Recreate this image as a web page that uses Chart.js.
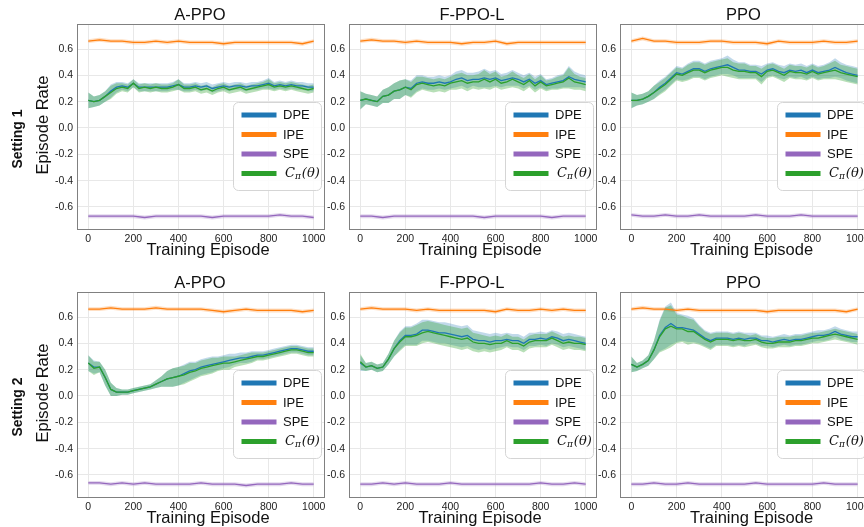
<!DOCTYPE html>
<html>
<head>
<meta charset="utf-8">
<script src="https://cdn.jsdelivr.net/npm/chart.js@4.4.0/dist/chart.umd.min.js"></script>
<style>
  html, body { margin: 0; padding: 0; background: #fff; overflow: hidden; }
  body { width: 864px; height: 527px; position: relative; }
  canvas { position: absolute; }
</style>
</head>
<body>
<canvas id="a1"></canvas>
<canvas id="b1"></canvas>
<canvas id="c1"></canvas>
<canvas id="a2"></canvas>
<canvas id="b2"></canvas>
<canvas id="c2"></canvas>
<script>
// episodes (x positions of the readings)
const EP25 = [0, 25, 50, 75, 100, 125, 150, 175, 200, 225, 250, 275, 300, 325, 350, 375, 400, 425, 450, 475,
  500, 525, 550, 575, 600, 625, 650, 675, 700, 725, 750, 775, 800, 825, 850, 875, 900, 925, 950, 975, 1000]
const EP50 = [0, 50, 100, 150, 200, 250, 300, 350, 400, 450, 500, 550, 600, 650, 700, 750, 800, 850, 900, 950, 1000]

const X_TICKS = [0, 200, 400, 600, 800, 1000]
const Y_TICKS = [-0.6, -0.4, -0.2, 0, 0.2, 0.4, 0.6]
const LEGEND_LABELS = ["DPE", "IPE", "SPE", "Cπ(θ)"]
const SIDE_BAND = 0.015

// Setting 1, A-PPO
const a1Dpe = [0.21,0.20,0.21,0.24,0.28,0.31,0.32,0.31,0.34,0.31,0.31,0.31,0.31,0.31,0.31,0.32,0.33,0.31,0.31,0.32,0.31,0.32,0.30,0.31,0.32,0.31,0.32,0.32,0.31,0.32,0.32,0.33,0.34,0.32,0.33,0.32,0.33,0.32,0.32,0.31,0.31]
const a1Cpi = [0.21,0.20,0.21,0.24,0.27,0.30,0.31,0.30,0.34,0.30,0.31,0.30,0.31,0.30,0.30,0.31,0.33,0.30,0.30,0.31,0.29,0.30,0.28,0.30,0.31,0.29,0.30,0.31,0.29,0.30,0.31,0.32,0.33,0.31,0.32,0.31,0.32,0.31,0.30,0.29,0.30]
const a1Band = [0.06,0.04,0.04,0.04,0.05,0.04,0.03,0.03,0.03,0.03,0.03,0.03,0.03,0.03,0.03,0.03,0.04,0.03,0.03,0.03,0.03,0.03,0.03,0.03,0.03,0.03,0.03,0.03,0.03,0.03,0.03,0.03,0.04,0.03,0.03,0.03,0.03,0.03,0.03,0.03,0.03]
const a1Ipe = [0.66,0.67,0.66,0.66,0.65,0.65,0.66,0.65,0.66,0.65,0.65,0.65,0.64,0.65,0.65,0.65,0.65,0.65,0.65,0.64,0.66]
const a1Spe = [-0.67,-0.67,-0.67,-0.67,-0.67,-0.68,-0.67,-0.67,-0.67,-0.67,-0.67,-0.68,-0.67,-0.67,-0.67,-0.67,-0.67,-0.66,-0.67,-0.67,-0.68]

// Setting 1, F-PPO-L
const b1Dpe = [0.21,0.22,0.21,0.20,0.24,0.25,0.28,0.29,0.31,0.30,0.34,0.35,0.34,0.34,0.35,0.34,0.35,0.37,0.38,0.36,0.37,0.37,0.38,0.37,0.38,0.36,0.37,0.38,0.37,0.35,0.37,0.34,0.36,0.33,0.34,0.35,0.36,0.39,0.37,0.36,0.35]
const b1Cpi = [0.21,0.22,0.21,0.20,0.24,0.25,0.28,0.29,0.31,0.29,0.33,0.34,0.33,0.32,0.33,0.32,0.34,0.35,0.36,0.34,0.35,0.35,0.37,0.35,0.37,0.34,0.35,0.37,0.35,0.33,0.36,0.32,0.35,0.32,0.33,0.34,0.35,0.38,0.35,0.34,0.33]
const b1Band = [0.07,0.04,0.04,0.04,0.05,0.06,0.06,0.07,0.06,0.06,0.06,0.05,0.05,0.05,0.05,0.05,0.05,0.06,0.06,0.06,0.05,0.06,0.07,0.06,0.06,0.05,0.05,0.06,0.05,0.05,0.05,0.05,0.05,0.04,0.04,0.05,0.05,0.08,0.06,0.05,0.05]
const b1Ipe = [0.66,0.67,0.66,0.66,0.65,0.66,0.65,0.65,0.65,0.64,0.65,0.65,0.66,0.64,0.65,0.65,0.65,0.65,0.65,0.65,0.65]
const b1Spe = [-0.67,-0.67,-0.68,-0.67,-0.67,-0.67,-0.67,-0.67,-0.67,-0.67,-0.67,-0.68,-0.67,-0.67,-0.67,-0.67,-0.67,-0.68,-0.67,-0.67,-0.67]

// Setting 1, PPO
const c1Dpe = [0.21,0.21,0.22,0.24,0.27,0.31,0.34,0.38,0.42,0.41,0.43,0.45,0.45,0.43,0.45,0.46,0.47,0.48,0.46,0.44,0.44,0.43,0.43,0.41,0.44,0.45,0.43,0.42,0.44,0.43,0.44,0.42,0.44,0.42,0.43,0.44,0.46,0.44,0.42,0.41,0.40]
const c1Cpi = [0.21,0.21,0.22,0.24,0.27,0.30,0.33,0.37,0.41,0.40,0.42,0.44,0.44,0.42,0.44,0.45,0.46,0.46,0.44,0.43,0.43,0.42,0.42,0.39,0.43,0.44,0.42,0.40,0.43,0.42,0.42,0.41,0.43,0.41,0.42,0.43,0.44,0.42,0.41,0.40,0.39]
const c1Band = [0.06,0.04,0.04,0.04,0.05,0.05,0.05,0.05,0.05,0.05,0.06,0.06,0.06,0.06,0.06,0.06,0.06,0.07,0.06,0.06,0.06,0.05,0.05,0.06,0.05,0.05,0.05,0.05,0.05,0.05,0.05,0.05,0.05,0.05,0.05,0.06,0.07,0.06,0.06,0.06,0.06]
const c1Ipe = [0.66,0.68,0.66,0.66,0.65,0.65,0.65,0.66,0.66,0.65,0.65,0.65,0.64,0.66,0.65,0.65,0.65,0.66,0.65,0.65,0.66]
const c1Spe = [-0.66,-0.67,-0.67,-0.66,-0.67,-0.67,-0.66,-0.67,-0.67,-0.67,-0.67,-0.66,-0.67,-0.67,-0.67,-0.66,-0.67,-0.67,-0.67,-0.67,-0.67]

// Setting 2, A-PPO
const a2Dpe = [0.25,0.22,0.22,0.14,0.05,0.03,0.03,0.03,0.04,0.05,0.06,0.07,0.09,0.11,0.13,0.14,0.15,0.17,0.19,0.20,0.22,0.23,0.24,0.25,0.26,0.27,0.28,0.29,0.29,0.30,0.31,0.31,0.32,0.33,0.34,0.35,0.36,0.36,0.35,0.34,0.34]
const a2Cpi = [0.25,0.21,0.22,0.14,0.05,0.03,0.03,0.03,0.04,0.05,0.06,0.07,0.09,0.11,0.13,0.14,0.15,0.16,0.18,0.19,0.21,0.22,0.23,0.24,0.25,0.25,0.26,0.27,0.28,0.29,0.30,0.30,0.31,0.32,0.33,0.34,0.35,0.35,0.34,0.33,0.33]
const a2Band = [0.06,0.05,0.04,0.06,0.05,0.03,0.02,0.02,0.02,0.02,0.02,0.02,0.03,0.04,0.06,0.07,0.07,0.07,0.07,0.06,0.06,0.06,0.06,0.05,0.05,0.05,0.04,0.04,0.04,0.04,0.03,0.03,0.03,0.03,0.03,0.03,0.03,0.03,0.03,0.03,0.03]
const a2Ipe = [0.66,0.66,0.67,0.66,0.66,0.66,0.67,0.66,0.66,0.66,0.66,0.65,0.64,0.65,0.66,0.65,0.65,0.65,0.65,0.64,0.65]
const a2Spe = [-0.66,-0.66,-0.67,-0.66,-0.67,-0.66,-0.67,-0.67,-0.67,-0.67,-0.66,-0.67,-0.67,-0.67,-0.68,-0.67,-0.67,-0.67,-0.66,-0.67,-0.67]

// Setting 2, F-PPO-L
const b2Dpe = [0.25,0.22,0.23,0.21,0.22,0.28,0.36,0.42,0.46,0.46,0.47,0.50,0.50,0.49,0.48,0.48,0.47,0.46,0.45,0.46,0.43,0.42,0.42,0.41,0.42,0.42,0.43,0.42,0.42,0.40,0.43,0.43,0.44,0.43,0.45,0.44,0.42,0.43,0.42,0.41,0.40]
const b2Cpi = [0.26,0.22,0.23,0.21,0.22,0.28,0.36,0.41,0.45,0.45,0.46,0.48,0.49,0.48,0.47,0.46,0.45,0.44,0.43,0.44,0.41,0.40,0.40,0.39,0.40,0.40,0.42,0.40,0.40,0.38,0.41,0.42,0.42,0.42,0.44,0.42,0.40,0.41,0.40,0.40,0.39]
const b2Band = [0.06,0.03,0.03,0.03,0.03,0.04,0.06,0.07,0.07,0.07,0.08,0.08,0.08,0.08,0.08,0.08,0.08,0.08,0.08,0.08,0.07,0.07,0.06,0.06,0.06,0.05,0.05,0.05,0.05,0.05,0.05,0.05,0.05,0.05,0.05,0.05,0.05,0.05,0.05,0.05,0.05]
const b2Ipe = [0.66,0.67,0.66,0.66,0.66,0.65,0.66,0.65,0.65,0.65,0.65,0.65,0.64,0.66,0.65,0.65,0.66,0.65,0.66,0.65,0.65]
const b2Spe = [-0.67,-0.67,-0.66,-0.67,-0.66,-0.67,-0.67,-0.67,-0.66,-0.67,-0.67,-0.67,-0.67,-0.67,-0.67,-0.67,-0.66,-0.67,-0.67,-0.66,-0.67]

// Setting 2, PPO
const c2Dpe = [0.24,0.22,0.24,0.27,0.35,0.46,0.52,0.55,0.52,0.52,0.51,0.50,0.47,0.44,0.42,0.44,0.44,0.44,0.43,0.44,0.43,0.44,0.44,0.42,0.42,0.41,0.42,0.43,0.42,0.43,0.43,0.44,0.45,0.46,0.46,0.47,0.49,0.47,0.46,0.45,0.45]
const c2Cpi = [0.24,0.22,0.24,0.27,0.35,0.45,0.51,0.53,0.51,0.51,0.49,0.49,0.46,0.43,0.41,0.43,0.43,0.43,0.42,0.43,0.42,0.42,0.43,0.41,0.40,0.40,0.41,0.41,0.41,0.42,0.42,0.43,0.44,0.44,0.45,0.46,0.47,0.46,0.45,0.44,0.43]
const c2Band = [0.06,0.03,0.03,0.04,0.07,0.12,0.16,0.16,0.11,0.10,0.10,0.09,0.07,0.06,0.06,0.05,0.05,0.05,0.05,0.05,0.05,0.04,0.04,0.04,0.04,0.04,0.04,0.04,0.04,0.04,0.04,0.04,0.04,0.04,0.04,0.04,0.04,0.04,0.04,0.04,0.04]
const c2Ipe = [0.66,0.67,0.66,0.66,0.65,0.66,0.65,0.65,0.65,0.65,0.65,0.65,0.64,0.65,0.65,0.65,0.65,0.65,0.65,0.64,0.66]
const c2Spe = [-0.67,-0.67,-0.66,-0.67,-0.67,-0.66,-0.67,-0.67,-0.67,-0.67,-0.67,-0.66,-0.67,-0.67,-0.67,-0.67,-0.67,-0.66,-0.67,-0.67,-0.67]

const COLORS = { dpe: "#1f77b4", ipe: "#ff7f0e", spe: "#9467bd", cpi: "#2ca02c" }
const FONT = "'Liberation Sans', Arial, sans-serif"

const panels = [
  { id: "a1", title: "A-PPO", setting: "Setting 1", left: 0, top: 0, width: 325, height: 258, yW: 77, padTop: 24, xH: 28,
    dpe: a1Dpe, cpi: a1Cpi, band: a1Band, ipe: a1Ipe, spe: a1Spe },
  { id: "b1", title: "F-PPO-L", left: 321, top: 0, width: 276, height: 258, yW: 28, padTop: 24, xH: 28,
    dpe: b1Dpe, cpi: b1Cpi, band: b1Band, ipe: b1Ipe, spe: b1Spe },
  { id: "c1", title: "PPO", left: 592, top: 0, width: 277, height: 258, yW: 28, padTop: 24, xH: 28,
    dpe: c1Dpe, cpi: c1Cpi, band: c1Band, ipe: c1Ipe, spe: c1Spe },
  { id: "a2", title: "A-PPO", setting: "Setting 2", left: 0, top: 270, width: 325, height: 257, yW: 77, padTop: 22, xH: 29,
    dpe: a2Dpe, cpi: a2Cpi, band: a2Band, ipe: a2Ipe, spe: a2Spe },
  { id: "b2", title: "F-PPO-L", left: 321, top: 270, width: 276, height: 257, yW: 28, padTop: 22, xH: 29,
    dpe: b2Dpe, cpi: b2Cpi, band: b2Band, ipe: b2Ipe, spe: b2Spe },
  { id: "c2", title: "PPO", left: 592, top: 270, width: 277, height: 257, yW: 28, padTop: 22, xH: 29,
    dpe: c2Dpe, cpi: c2Cpi, band: c2Band, ipe: c2Ipe, spe: c2Spe },
]

function pts(xs, ys, offs = 0, sign = 0) {
  return xs.map((x, i) => {
    const d = Array.isArray(offs) ? offs[i] : offs
    return { x, y: ys[i] + sign * d }
  })
}

function line(label, xs, ys, color, order) {
  return { label, data: pts(xs, ys), borderColor: color, borderWidth: 1.3, pointRadius: 0, fill: false, order }
}

function band(xs, ys, spread, color, order) {
  return [
    { data: pts(xs, ys, spread, 1), borderWidth: 0, pointRadius: 0, backgroundColor: color, fill: "+1", order },
    { data: pts(xs, ys, spread, -1), borderWidth: 0, pointRadius: 0, fill: false, order },
  ]
}

// box, titles, axis labels and the in-axes legend
const panelText = {
  id: "panelText",
  afterDraw(chart, args, opts) {
    const { ctx, chartArea: a } = chart
    const cx = (a.left + a.right) / 2
    ctx.save()
    ctx.strokeStyle = "#808080"
    ctx.lineWidth = 1
    ctx.strokeRect(a.left + 0.5, a.top + 0.5, a.right - a.left - 1, a.bottom - a.top - 1)

    ctx.fillStyle = "#111"
    ctx.textAlign = "center"
    ctx.textBaseline = "middle"
    ctx.font = "16.5px " + FONT
    ctx.fillText(opts.title, cx - 1, a.top - 8.5)
    ctx.fillText("Training Episode", cx + 7, a.bottom + 20)

    if (opts.setting) {
      ctx.save()
      ctx.translate(43.5, (a.top + a.bottom) / 2 - 2)
      ctx.rotate(-Math.PI / 2)
      ctx.fillText("Episode Rate", 0, 0)
      ctx.restore()
      ctx.save()
      ctx.translate(18.5, a.top + 115)
      ctx.rotate(-Math.PI / 2)
      ctx.font = "bold 14px " + FONT
      ctx.fillText(opts.setting, 0, 0)
      ctx.restore()
    }

    // legend
    const lw = 88, lh = 88
    const lx = a.right - 4 - lw, ly = a.top + 78
    ctx.beginPath()
    ctx.roundRect(lx + 0.5, ly + 0.5, lw, lh, 5)
    ctx.fillStyle = "rgba(255,255,255,0.85)"
    ctx.fill()
    ctx.strokeStyle = "#d5d5d5"
    ctx.lineWidth = 1
    ctx.stroke()
    const cols = [COLORS.dpe, COLORS.ipe, COLORS.spe, COLORS.cpi]
    LEGEND_LABELS.forEach((lab, i) => {
      const y = ly + 13 + i * 19.5
      ctx.strokeStyle = cols[i]
      ctx.lineWidth = 5
      ctx.beginPath()
      ctx.moveTo(lx + 8.5, y)
      ctx.lineTo(lx + 43.5, y)
      ctx.stroke()
      ctx.fillStyle = "#111"
      ctx.textAlign = "left"
      if (i < 3) {
        ctx.font = "13px " + FONT
        ctx.fillText(lab, lx + 50, y + 0.5)
      } else {
        // C_pi(theta) written with a subscript
        let x = lx + 52
        ctx.font = "italic 13px 'DejaVu Serif', serif"
        ctx.fillText(lab[0], x, y)
        x += ctx.measureText(lab[0]).width
        ctx.font = "italic 9px 'DejaVu Serif', serif"
        ctx.fillText(lab[1], x, y + 3)
        x += ctx.measureText(lab[1]).width + 1
        ctx.font = "italic 13px 'DejaVu Serif', serif"
        ctx.fillText(lab.slice(2), x, y)
      }
    })
    ctx.restore()
  }
}

panels.forEach(p => {
  const canvas = document.getElementById(p.id)
  canvas.width = p.width
  canvas.height = p.height
  canvas.style.left = p.left + "px"
  canvas.style.top = p.top + "px"

  const datasets = [
    line("Cpi", EP25, p.cpi, COLORS.cpi, 0),
    line("DPE", EP25, p.dpe, COLORS.dpe, 1),
    line("IPE", EP50, p.ipe, COLORS.ipe, 1),
    line("SPE", EP50, p.spe, COLORS.spe, 1),
    ...band(EP25, p.cpi, p.band, "rgba(44,160,44,0.34)", 4),
    ...band(EP25, p.dpe, p.band, "rgba(31,119,180,0.28)", 5),
    ...band(EP50, p.ipe, SIDE_BAND, "rgba(255,127,14,0.25)", 5),
    ...band(EP50, p.spe, SIDE_BAND, "rgba(148,103,189,0.25)", 5),
  ]

  new Chart(canvas, {
    type: "line",
    data: { datasets },
    options: {
      responsive: false,
      animation: false,
      layout: { padding: { top: p.padTop, left: 0, right: 0, bottom: 0 } },
      plugins: {
        legend: { display: false },
        tooltip: { enabled: false },
        panelText: { title: p.title, setting: p.setting },
      },
      scales: {
        x: {
          type: "linear",
          min: -50,
          max: 1050,
          afterBuildTicks: s => { s.ticks = X_TICKS.map(v => ({ value: v })) },
          afterFit: s => { s.height = p.xH; s.paddingLeft = 0; s.paddingRight = 0 },
          grid: { color: "#e8e8e8", drawTicks: false },
          border: { display: false },
          ticks: { color: "#222", padding: 3, maxRotation: 0, font: { size: 10.5, family: FONT }, callback: v => String(v) },
        },
        y: {
          min: -0.775,
          max: 0.79,
          afterBuildTicks: s => { s.ticks = Y_TICKS.map(v => ({ value: v })) },
          afterFit: s => { s.width = p.yW; s.paddingTop = 0; s.paddingBottom = 0 },
          grid: { color: "#e8e8e8", drawTicks: false },
          border: { display: false },
          ticks: { color: "#222", padding: 4, font: { size: 10.5, family: FONT }, callback: v => v.toFixed(1) },
        },
      },
    },
    plugins: [panelText],
  })
})
</script>
</body>
</html>
